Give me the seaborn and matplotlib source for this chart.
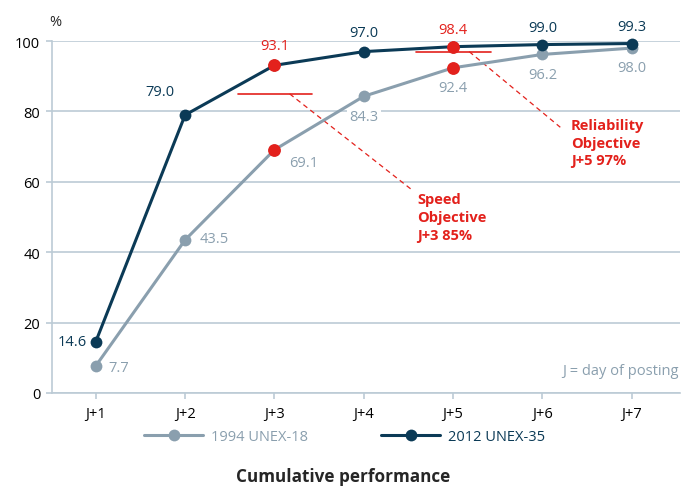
import pandas as pd
import seaborn as sns
import matplotlib.pyplot as plt
from matplotlib.lines import Line2D

# data
days = ['J+1', 'J+2', 'J+3', 'J+4', 'J+5', 'J+6', 'J+7']
unex_1994 = [7.7, 43.5, 69.1, 84.3, 92.4, 96.2, 98.0]
unex_2012 = [14.6, 79.0, 93.1, 97.0, 98.4, 99.0, 99.3]
objective_days = ['J+3', 'J+5']
objective_values = [85, 97]

NAVY = '#0b3a56'
GREY = '#8a9fae'
RED = '#e3211c'
GRID = '#bccbd5'

sns.set_theme(style='white')
plt.rcParams['font.family'] = ['Open Sans', 'DejaVu Sans']

pos = {d: i + 1 for i, d in enumerate(days)}
df = pd.DataFrame({
    'day': [pos[d] for d in days] * 2,
    'value': unex_1994 + unex_2012,
    'series': ['1994 UNEX-18'] * len(days) + ['2012 UNEX-35'] * len(days),
})

fig = plt.figure(figsize=(6.9, 4.89), dpi=100)
ax = fig.add_axes([0.0754, 0.1943, 0.9101, 0.7197])

for y in range(0, 101, 20):
    ax.axhline(y, color=GRID, lw=1.2, zorder=0)

sns.lineplot(data=df, x='day', y='value', hue='series',
             palette={'1994 UNEX-18': GREY, '2012 UNEX-35': NAVY},
             marker='o', markersize=8.5, markeredgewidth=0, linewidth=2.2,
             legend=False, ax=ax, clip_on=False, zorder=3)

# red highlighted points at objectives
red_df = pd.DataFrame({
    'day': [pos[d] for d in objective_days] * 2,
    'value': [unex_1994[pos[d] - 1] for d in objective_days] +
             [unex_2012[pos[d] - 1] for d in objective_days],
})
sns.scatterplot(data=red_df, x='day', y='value', color=RED, s=85,
                linewidth=0, ax=ax, zorder=4, clip_on=False)

# objective lines
for d, v in zip(objective_days, objective_values):
    x = pos[d]
    ax.plot([x - 0.41, x + 0.42], [v, v], color=RED, lw=1.2, zorder=2)

ax.plot([3.17, 4.55], [85, 57.5], color=RED, lw=0.9, ls=(0, (4, 3)), zorder=2)
ax.plot([5.18, 6.2], [97, 75.5], color=RED, lw=0.9, ls=(0, (4, 3)), zorder=2)
ax.text(4.6, 57, 'Speed\nObjective\nJ+3 85%', color=RED, fontsize=10.5,
        fontweight='bold', va='top', ha='left', linespacing=1.35)
ax.text(6.32, 78.2, 'Reliability\nObjective\nJ+5 97%', color=RED, fontsize=10.5,
        fontweight='bold', va='top', ha='left', linespacing=1.35)

# data labels
lab_2012 = [(-0.1, 0, 'right', 'center'), (-0.12, 4.5, 'right', 'bottom'),
            (0, 3.5, 'center', 'bottom'), (0, 3.3, 'center', 'bottom'),
            (0, 2.8, 'center', 'bottom'), (0, 2.6, 'center', 'bottom'),
            (0, 2.6, 'center', 'bottom')]
for i, (v, (dx, dy, ha, va)) in enumerate(zip(unex_2012, lab_2012)):
    col = RED if days[i] in objective_days else NAVY
    ax.text(i + 1 + dx, v + dy, f'{v:.1f}', color=col, fontsize=10.5,
            ha=ha, va=va)

lab_1994 = [(0.14, -0.5, 'left', 'center'), (0.16, 0.5, 'left', 'center'),
            (0.16, -3.5, 'left', 'center'), (0, -3.5, 'center', 'top'),
            (0, -3.5, 'center', 'top'), (0, -3.5, 'center', 'top'),
            (0, -3.5, 'center', 'top')]
for i, (v, (dx, dy, ha, va)) in enumerate(zip(unex_1994, lab_1994)):
    ax.text(i + 1 + dx, v + dy, f'{v:.1f}', color=GREY, fontsize=10.5,
            ha=ha, va=va, zorder=1,
            bbox=dict(boxstyle='square,pad=0.15', fc='white', ec='none'))

ax.text(7.53, 6.5, 'J = day of posting', color=GREY, fontsize=10.5,
        ha='right', va='center')

ax.set_xlim(0.51, 7.54)
ax.set_ylim(0, 100)
ax.set_xticks(range(1, len(days) + 1))
ax.set_xticklabels(days)
ax.set_yticks(range(0, 101, 20))
ax.set_xlabel('')
ax.set_ylabel('')
ax.tick_params(axis='both', labelsize=10.5, colors=GRID, labelcolor='black',
               length=4.5, width=1.2, direction='out', bottom=True, left=True)
ax.tick_params(axis='x', pad=5)
ax.tick_params(axis='y', pad=4)
for side in ['top', 'right']:
    ax.spines[side].set_visible(False)
for side in ['left', 'bottom']:
    ax.spines[side].set_color(GRID)
    ax.spines[side].set_linewidth(1.2)
ax.text(0.005, 1.035, '%', transform=ax.transAxes, fontsize=10.5, ha='center',
        va='bottom')

handles = [
    Line2D([0], [0], color=GREY, lw=2.2, marker='o', markersize=8.5,
           markeredgewidth=0),
    Line2D([0], [0], color=NAVY, lw=2.2, marker='o', markersize=8.5,
           markeredgewidth=0),
]
leg = fig.legend(handles, ['1994 UNEX-18', '2012 UNEX-35'], loc='center',
                 bbox_to_anchor=(0.5, 0.106), ncol=2, frameon=False,
                 fontsize=10.5, handlelength=4.0, columnspacing=5.0,
                 handletextpad=0.6)
for t, c in zip(leg.get_texts(), [GREY, NAVY]):
    t.set_color(c)

fig.text(0.497, 0.024, 'Cumulative performance', fontsize=12.3,
         fontweight='bold', ha='center', va='center')

fig.savefig('out.png', dpi=100)
